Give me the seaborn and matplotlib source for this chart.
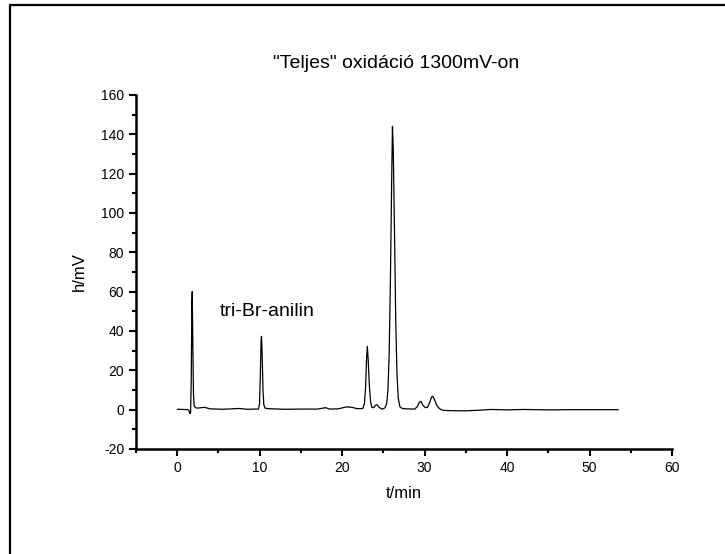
import numpy as np
import pandas as pd
import seaborn as sns
import matplotlib.pyplot as plt
from matplotlib.lines import Line2D
from matplotlib.ticker import MultipleLocator

# chromatogram points (t in min, h in mV)
t_min = [0.0, 0.8, 1.3, 1.4, 1.55, 1.62, 1.7, 1.78, 1.82, 1.9, 1.97, 2.05, 2.2, 2.5,
         3.3, 4.0, 5.5, 7.5, 8.5, 9.5, 9.85, 9.98, 10.08, 10.17, 10.22, 10.3, 10.4,
         10.5, 10.65, 11.0, 13.0, 15.0, 17.0, 18.0, 18.5, 19.5, 20.5, 21.2, 21.8,
         22.5, 22.7, 22.85, 22.95, 23.05, 23.15, 23.3, 23.45, 23.6, 23.8, 24.05,
         24.25, 24.45, 24.8, 25.0, 25.2, 25.4, 25.55, 25.7, 25.85, 26.0, 26.1, 26.2,
         26.35, 26.5, 26.65, 26.8, 27.0, 27.3, 27.8, 28.8, 29.1, 29.4, 29.55, 29.8,
         30.1, 30.35, 30.6, 30.85, 31.0, 31.2, 31.5, 31.8, 32.2, 33.0, 35.0, 37.0,
         38.0, 40.0, 42.0, 45.0, 48.0, 53.5]
h_mv = [0.2, 0.1, 0.0, -0.3, -2.0, -1.5, 15.0, 55.0, 60.0, 30.0, 8.0, 2.0, 1.0, 0.8,
        1.2, 0.4, 0.2, 0.6, 0.2, 0.3, 0.3, 3.0, 18.0, 35.0, 37.3, 28.0, 10.0,
        2.5, 0.8, 0.5, 0.2, 0.3, 0.3, 1.0, 0.3, 0.4, 1.4, 1.2, 0.5,
        0.6, 3.0, 12.0, 25.0, 32.2, 26.0, 12.0, 4.0, 1.2, 1.0, 2.2,
        2.5, 1.3, 0.3, 0.5, 1.0, 3.0, 10.0, 28.0, 65.0, 115.0, 144.0, 132.0,
        90.0, 45.0, 18.0, 6.0, 1.5, 0.6, 0.4, 0.3, 1.5, 4.0, 4.2, 2.2,
        1.0, 1.2, 3.5, 6.5, 6.8, 5.0, 2.0, 0.5, -0.3, -0.5, -0.6, -0.2,
        0.1, -0.1, 0.1, -0.1, 0.0, 0.0]

df = pd.DataFrame({"t": t_min, "h": h_mv})

sns.set_style("ticks")
plt.rcParams['font.family'] = ['Liberation Sans', 'DejaVu Sans']
plt.rcParams['axes.unicode_minus'] = False
plt.rcParams['text.color'] = 'black'
plt.rcParams['axes.labelcolor'] = 'black'

fig = plt.figure(figsize=(7.25, 5.54), dpi=100)
ax = fig.add_axes([136 / 725, 1 - 449 / 554, (672 - 136) / 725, (449 - 95) / 554])

sns.lineplot(data=df, x="t", y="h", ax=ax, color="black", linewidth=0.9,
             sort=False, estimator=None)

ax.set_xlim(-5, 60)
ax.set_ylim(-20, 160)
ax.xaxis.set_major_locator(MultipleLocator(10))
ax.xaxis.set_minor_locator(MultipleLocator(5))
ax.yaxis.set_major_locator(MultipleLocator(20))
ax.yaxis.set_minor_locator(MultipleLocator(10))
ax.tick_params(which="major", direction="out", length=5, width=1.5, labelsize=10,
               colors="black", labelcolor="black")
ax.tick_params(which="minor", direction="out", length=3, width=1.5, colors="black")

sns.despine(ax=ax)
for s in ["left", "bottom"]:
    ax.spines[s].set_linewidth(1.8)
    ax.spines[s].set_color("black")

ax.set_xlabel("t/min", fontsize=12, labelpad=8)
ax.set_ylabel("h/mV", fontsize=12, labelpad=10)
ax.text(5.2, 49.8, "tri-Br-anilin", fontsize=14, va="center", ha="left", color="black")
fig.text(396 / 725, 1 - 64 / 554, '"Teljes" oxidáció 1300mV-on', fontsize=14,
         ha="center", va="center", color="black")

# frame around the page (only left and top edges are visible)
fig.add_artist(Line2D([10 / 725, 10 / 725], [0, 1 - 5 / 554], color="black", linewidth=1.6))
fig.add_artist(Line2D([10 / 725, 1], [1 - 5 / 554, 1 - 5 / 554], color="black", linewidth=1.6))

fig.savefig("out.png", dpi=100)
